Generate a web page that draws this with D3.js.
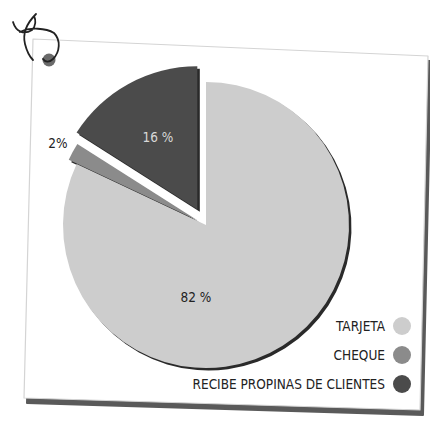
<!DOCTYPE html>
<html>
<head>
<meta charset="utf-8">
<script src="https://cdn.jsdelivr.net/npm/d3@7"></script>
<style>
  html, body { margin: 0; padding: 0; background: #fff; }
  svg { display: block; }
  text { font-family: "Liberation Sans Narrow", "DejaVu Sans Condensed", "Open Sans", sans-serif; }
</style>
</head>
<body>
<div id="grafico"></div>
<script>
// Dados do gráfico
const categorias = ["TARJETA", "CHEQUE", "RECIBE PROPINAS DE CLIENTES"];
const valores = [82, 2, 16];
const rotulos = ["82 %", "2%", "16 %"];

// Estilo por fatia (separado dos dados)
const cores = ["#cdcdcd", "#8b8b8b", "#4b4b4b"];
const coresTexto = ["#222", "#222", "#d8d8d8"];
const explode = [0, 9, 18];
const raioRotulo = [73, 160, 82];
const desvioAngulo = [0.705, 0, 0];

const width = 430, height = 422;
const cx = 206, cy = 225, raio = 143;

const svg = d3.select("#grafico")
  .append("svg")
  .attr("width", width)
  .attr("height", height);

// Cartão inclinado com sombra
const cartao = [[33, 39], [428, 56], [420, 410], [24, 398]];
svg.append("path")
  .attr("d", "M" + cartao.map(p => [p[0] + 3, p[1] + 5]).join("L") + "Z")
  .attr("fill", "#5a5a5a")
  .attr("stroke", "#5a5a5a")
  .attr("stroke-width", 2)
  .attr("stroke-linejoin", "round");
svg.append("path")
  .attr("d", "M" + cartao.join("L") + "Z")
  .attr("fill", "#fff")
  .attr("stroke", "#d4d4d4")
  .attr("stroke-width", 1.2)
  .attr("stroke-linejoin", "round");

// Alfinete e rabisco
svg.append("circle")
  .attr("cx", 49).attr("cy", 60).attr("r", 6.5)
  .attr("fill", "#6a6a6a");
svg.append("path")
  .attr("d", "M13,22 C16,32 24,35 32,30 C36,26 36,20 34,16 M36,14 C28,22 22,32 25,44 C27,52 30,57 33,60 M20,32 C30,27 46,28 54,33 C61,40 60,52 53,59 C49,63 45,62 43,59")
  .attr("fill", "none")
  .attr("stroke", "#222")
  .attr("stroke-width", 1.8)
  .attr("stroke-linecap", "round");

// Pizza
const pie = d3.pie().sort(null).value(d => d);
const arcos = pie(valores);
const arc = d3.arc().innerRadius(0).outerRadius(raio);

const g = svg.append("g").attr("transform", `translate(${cx},${cy})`);

function deslocamento(d, i) {
  const a = (d.startAngle + d.endAngle) / 2;
  return [Math.sin(a) * explode[i], -Math.cos(a) * explode[i]];
}

// sombras
g.selectAll("path.sombra")
  .data(arcos)
  .join("path")
  .attr("class", "sombra")
  .attr("d", arc)
  .attr("fill", "#2a2a2a")
  .attr("transform", (d, i) => {
    const [dx, dy] = deslocamento(d, i);
    return `translate(${dx + 2.5},${dy + 2.5})`;
  });

g.selectAll("path.fatia")
  .data(arcos)
  .join("path")
  .attr("class", "fatia")
  .attr("d", arc)
  .attr("fill", (d, i) => cores[i])
  .attr("transform", (d, i) => {
    const [dx, dy] = deslocamento(d, i);
    return `translate(${dx},${dy})`;
  });

// rótulos
g.selectAll("text.rotulo")
  .data(arcos)
  .join("text")
  .attr("class", "rotulo")
  .attr("x", (d, i) => {
    const a = (d.startAngle + d.endAngle) / 2 + desvioAngulo[i];
    return deslocamento(d, i)[0] + Math.sin(a) * raioRotulo[i];
  })
  .attr("y", (d, i) => {
    const a = (d.startAngle + d.endAngle) / 2 + desvioAngulo[i];
    return deslocamento(d, i)[1] - Math.cos(a) * raioRotulo[i];
  })
  .attr("dy", "0.35em")
  .attr("text-anchor", "middle")
  .attr("font-size", 13.5)
  .attr("fill", (d, i) => coresTexto[i])
  .text((d, i) => rotulos[i]);

// Legenda
const legenda = svg.append("g").attr("transform", "translate(402,326)");
const itens = legenda.selectAll("g")
  .data(categorias)
  .join("g")
  .attr("transform", (d, i) => `translate(0,${i * 29})`);

itens.append("circle")
  .attr("r", 9)
  .attr("fill", (d, i) => cores[i]);

itens.append("text")
  .attr("x", -17)
  .attr("dy", "0.35em")
  .attr("text-anchor", "end")
  .attr("font-size", 13.5)
  .attr("fill", "#222")
  .text(d => d);
</script>
</body>
</html>
